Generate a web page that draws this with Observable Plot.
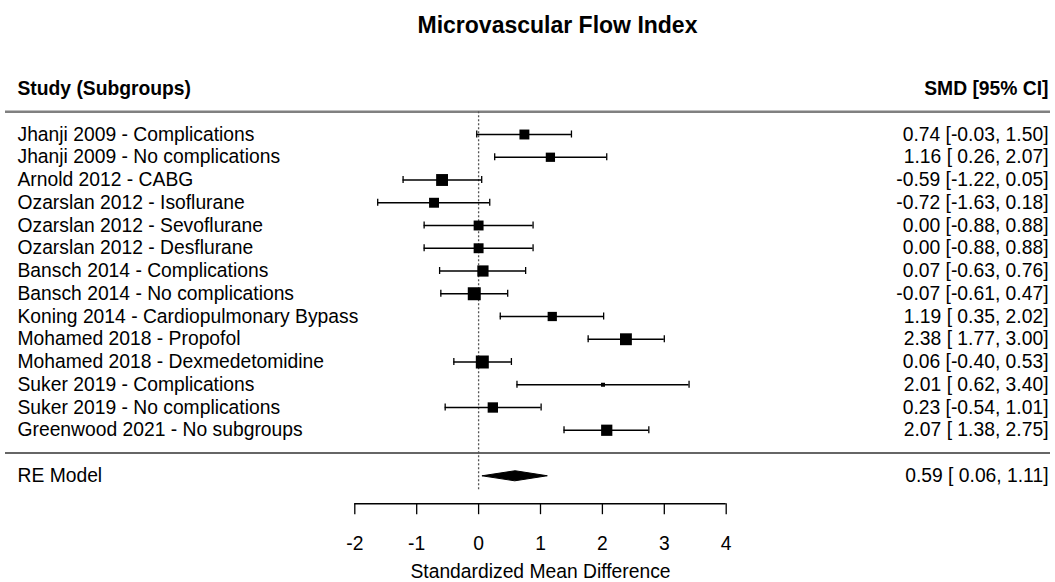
<!DOCTYPE html>
<html><head><meta charset="utf-8">
<script src="https://cdn.jsdelivr.net/npm/d3@7"></script>
<script src="https://cdn.jsdelivr.net/npm/@observablehq/plot@0.6"></script>
<style>
body{margin:0;background:#fff;font-family:"Liberation Sans",Arial,sans-serif;}
#title{width:1055px;height:48px;box-sizing:border-box;padding-top:3px;padding-left:60px;line-height:45px;font-size:23px;font-weight:bold;text-align:center;color:#000;}
#chart svg{display:block;overflow:visible;}
</style></head><body>
<div id="title">Microvascular Flow Index</div>
<div id="chart"></div>
<script>
const studies = [
  "Jhanji 2009 - Complications",
  "Jhanji 2009 - No complications",
  "Arnold 2012 - CABG",
  "Ozarslan 2012 - Isoflurane",
  "Ozarslan 2012 - Sevoflurane",
  "Ozarslan 2012 - Desflurane",
  "Bansch 2014 - Complications",
  "Bansch 2014 - No complications",
  "Koning 2014 - Cardiopulmonary Bypass",
  "Mohamed 2018 - Propofol",
  "Mohamed 2018 - Dexmedetomidine",
  "Suker 2019 - Complications",
  "Suker 2019 - No complications",
  "Greenwood 2021 - No subgroups"
];
const smd     = [0.74, 1.16, -0.59, -0.72, 0.00, 0.00, 0.07, -0.07, 1.19, 2.38, 0.06, 2.01, 0.23, 2.07];
const ciLower = [-0.03, 0.26, -1.22, -1.63, -0.88, -0.88, -0.63, -0.61, 0.35, 1.77, -0.40, 0.62, -0.54, 1.38];
const ciUpper = [1.50, 2.07, 0.05, 0.18, 0.88, 0.88, 0.76, 0.47, 2.02, 3.00, 0.53, 3.40, 1.01, 2.75];
const weights = [7.1, 6.8, 8.0, 7.1, 7.1, 7.1, 7.7, 8.5, 6.8, 8.0, 8.5, 4.4, 7.3, 7.7];
const reModel = {label: "RE Model", est: 0.59, lo: 0.06, hi: 1.11};
const headerLeft = "Study (Subgroups)";
const headerRight = "SMD [95% CI]";
const xTicks = [-2, -1, 0, 1, 2, 3, 4];
const axisTitle = "Standardized Mean Difference";

const f2 = d3.format(".2f");
const fmt = v => f2(v).replace("−", "-");
const padLo = v => (v < 0 ? "" : " ") + fmt(v);
const ciText = (e, lo, hi) => `${fmt(e)} [${padLo(lo)}, ${fmt(hi)}]`;

const rows = studies.map((s, i) => ({
  study: s, row: i, est: smd[i], lo: ciLower[i], hi: ciUpper[i], w: weights[i],
  label: ciText(smd[i], ciLower[i], ciUpper[i])
}));
const RE_ROW = studies.length + 1;
const SEP_ROW = studies.length;
const HEAD_ROW = -2;
const AXIS_ROW = 16.23;
const FS = 19.3;
const reRow = [{text: reModel.label, ci: ciText(reModel.est, reModel.lo, reModel.hi), row: RE_ROW}];
const diamond = [
  {x: reModel.lo, y: RE_ROW},
  {x: reModel.est, y: RE_ROW - 0.22},
  {x: reModel.hi, y: RE_ROW},
  {x: reModel.est, y: RE_ROW + 0.22}
];

const chart = Plot.plot({
  width: 1055, height: 534,
  marginLeft: 0, marginRight: 0, marginTop: 0, marginBottom: 78.8,
  style: {fontFamily: "'Liberation Sans', Arial, sans-serif", fontSize: FS + "px", color: "#000", background: "#fff"},
  x: {domain: [-2, 4], range: [354.3, 725.7]},
  y: {domain: [0, 13], range: [86, 86 + 22.75 * 13], axis: null},
  r: {type: "linear", domain: [d3.min(weights), d3.max(weights)], range: [2.26, 7.33]},
  marks: [
    Plot.ruleY([-1], {stroke: "#808080", strokeWidth: 2.6, insetLeft: 5, insetRight: 5}),
    Plot.ruleY([SEP_ROW], {stroke: "#333", strokeWidth: 1.6, insetLeft: 5, insetRight: 5}),
    Plot.ruleX([0], {y1: -1, y2: 15.65, stroke: "#555", strokeWidth: 1.3, strokeDasharray: "2,2"}),
    Plot.ruleY(rows, {y: "row", x1: "lo", x2: "hi", stroke: "#000", strokeWidth: 1.3}),
    Plot.ruleX(rows, {x: "lo", y1: d => d.row - 0.155, y2: d => d.row + 0.155, stroke: "#000", strokeWidth: 1.3}),
    Plot.ruleX(rows, {x: "hi", y1: d => d.row - 0.155, y2: d => d.row + 0.155, stroke: "#000", strokeWidth: 1.3}),
    Plot.dot(rows, {x: "est", y: "row", r: "w", symbol: "square", fill: "#000", stroke: null}),
    Plot.line(diamond, {x: "x", y: "y", fill: "#000", stroke: "#000", strokeWidth: 1, curve: "linear-closed"}),
    Plot.text(rows, {y: "row", text: "study", frameAnchor: "left", dx: 17, textAnchor: "start", fontSize: FS, fill: "#000"}),
    Plot.text(rows, {y: "row", text: "label", frameAnchor: "right", dx: -7, textAnchor: "end", fontSize: FS, fill: "#000"}),
    Plot.text(reRow, {y: "row", text: "text", frameAnchor: "left", dx: 17, textAnchor: "start", fontSize: FS, fill: "#000"}),
    Plot.text(reRow, {y: "row", text: "ci", frameAnchor: "right", dx: -7, textAnchor: "end", fontSize: FS, fill: "#000"}),
    Plot.text([headerLeft], {y: HEAD_ROW, frameAnchor: "left", dx: 17, textAnchor: "start", fontSize: FS, fontWeight: "bold", fill: "#000"}),
    Plot.text([headerRight], {y: HEAD_ROW, frameAnchor: "right", dx: -7, textAnchor: "end", fontSize: FS, fontWeight: "bold", fill: "#000"}),
    Plot.ruleY([AXIS_ROW], {x1: -2, x2: 4, stroke: "#000", strokeWidth: 1.3}),
    Plot.axisX(xTicks, {anchor: "bottom", tickSize: 11, tickPadding: 22, fontSize: FS, label: null, stroke: "#000", strokeWidth: 1.3, tickFormat: d => String(d)}),
    Plot.text([axisTitle], {x: 1, frameAnchor: "bottom", lineAnchor: "bottom", dy: 74.5, fontSize: FS, fill: "#000"})
  ]
});
document.getElementById("chart").appendChild(chart);
</script>
</body></html>
